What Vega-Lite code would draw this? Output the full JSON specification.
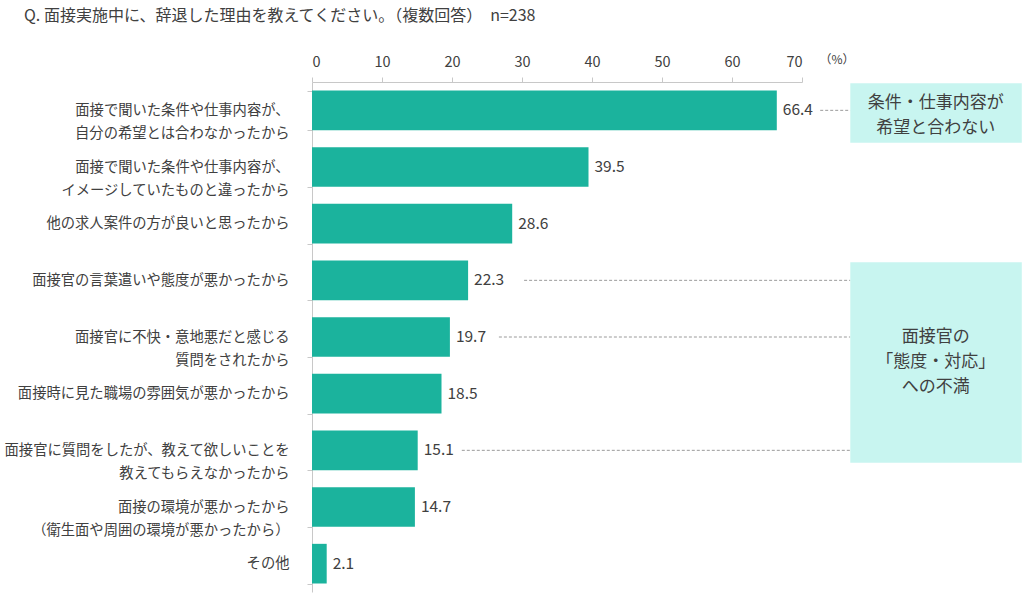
{
  "$schema": "https://vega.github.io/schema/vega-lite/v6.json",
  "width": 490,
  "height": 510,
  "autosize": {"type": "none"},
  "padding": {"left": 312, "top": 82, "right": 226, "bottom": 11},
  "background": "white",
  "config": {
    "font": "Noto Sans CJK JP",
    "view": {"stroke": null},
    "text": {"font": "Noto Sans CJK JP", "color": "#404040"}
  },
  "title": {
    "text": "Q. 面接実施中に、辞退した理由を教えてください。（複数回答）　n=238",
    "anchor": "start",
    "frame": "group",
    "fontSize": 16,
    "fontWeight": "normal",
    "color": "#404040",
    "dx": -288,
    "offset": 30
  },
  "datasets": {
    "bars": [
      {"reason": "面接で聞いた条件や仕事内容が、|自分の希望とは合わなかったから", "value": 66.4},
      {"reason": "面接で聞いた条件や仕事内容が、|イメージしていたものと違ったから", "value": 39.5},
      {"reason": "他の求人案件の方が良いと思ったから", "value": 28.6},
      {"reason": "面接官の言葉遣いや態度が悪かったから", "value": 22.3},
      {"reason": "面接官に不快・意地悪だと感じる|質問をされたから", "value": 19.7},
      {"reason": "面接時に見た職場の雰囲気が悪かったから", "value": 18.5},
      {"reason": "面接官に質問をしたが、教えて欲しいことを|教えてもらえなかったから", "value": 15.1},
      {"reason": "面接の環境が悪かったから|（衛生面や周囲の環境が悪かったから）", "value": 14.7},
      {"reason": "その他", "value": 2.1}
    ],
    "leaders": [
      {"reason": "面接で聞いた条件や仕事内容が、|自分の希望とは合わなかったから", "from": 72.6, "to": 76.9},
      {"reason": "面接官の言葉遣いや態度が悪かったから", "from": 30.3, "to": 76.9},
      {"reason": "面接官に不快・意地悪だと感じる|質問をされたから", "from": 26.7, "to": 76.9},
      {"reason": "面接官に質問をしたが、教えて欲しいことを|教えてもらえなかったから", "from": 21.4, "to": 76.9}
    ],
    "boxes": [
      {"x0": 76.9, "x1": 101.4, "y0": 0.02, "y1": 1.07, "tx": 89.1, "ty": 0.37, "label": "条件・仕事内容が|希望と合わない"},
      {"x0": 76.9, "x1": 101.4, "y0": 3.18, "y1": 6.72, "tx": 89.1, "ty": 4.5, "label": "面接官の|「態度・対応」|への不満"}
    ],
    "unit": [
      {"x": 75.0, "y": -0.39, "label": "（%）"}
    ]
  },
  "layer": [
    {
      "layer": [
        {
          "data": {"name": "bars"},
          "mark": {"type": "bar", "color": "#1bb39d"},
          "encoding": {
            "y": {
              "field": "reason",
              "type": "nominal",
              "sort": null,
              "scale": {"paddingInner": 0.3, "paddingOuter": 0.15},
              "axis": {
                "title": null,
                "labelExpr": "datum.value ? split(datum.value, '|') : ''",
                "labelFontSize": 14.3,
                "labelColor": "#404040",
                "labelLineHeight": 23,
                "labelPadding": 18,
                "labelLimit": 400,
                "tickBand": "extent",
                "tickSize": 5,
                "tickColor": "#c8c8c8",
                "domainColor": "#c8c8c8"
              }
            },
            "x": {
              "field": "value",
              "type": "quantitative",
              "scale": {"domain": [0, 70], "nice": false},
              "axis": {
                "orient": "top",
                "title": null,
                "values": [0, 10, 20, 30, 40, 50, 60, 70],
                "grid": false,
                "labelFontSize": 14.5,
                "labelColor": "#404040",
                "labelPadding": 8,
                "tickSize": 5,
                "tickColor": "#c8c8c8",
                "domainColor": "#c8c8c8"
              }
            }
          }
        },
        {
          "data": {"name": "bars"},
          "mark": {"type": "text", "align": "left", "baseline": "middle", "dx": 6, "fontSize": 15.5},
          "encoding": {
            "y": {"field": "reason", "type": "nominal", "sort": null},
            "x": {"field": "value", "type": "quantitative"},
            "text": {"field": "value", "type": "quantitative", "format": ".1f"}
          }
        },
        {
          "data": {"name": "leaders"},
          "mark": {"type": "rule", "color": "#9a9a9a", "strokeDash": [3, 2], "strokeWidth": 1},
          "encoding": {
            "y": {"field": "reason", "type": "nominal", "sort": null},
            "x": {"field": "from", "type": "quantitative"},
            "x2": {"field": "to"}
          }
        }
      ]
    },
    {
      "layer": [
        {
          "data": {"name": "boxes"},
          "mark": {"type": "rect", "color": "#c8f5f0"},
          "encoding": {
            "x": {"field": "x0", "type": "quantitative"},
            "x2": {"field": "x1"},
            "y": {"field": "y0", "type": "quantitative", "scale": {"domain": [0, 9], "reverse": true, "nice": false, "zero": false}, "axis": null},
            "y2": {"field": "y1"}
          }
        },
        {
          "data": {"name": "boxes"},
          "mark": {"type": "text", "align": "center", "baseline": "middle", "fontSize": 17, "lineBreak": "|", "lineHeight": 25},
          "encoding": {
            "x": {"field": "tx", "type": "quantitative"},
            "y": {"field": "ty", "type": "quantitative"},
            "text": {"field": "label"}
          }
        },
        {
          "data": {"name": "unit"},
          "mark": {"type": "text", "align": "center", "baseline": "middle", "fontSize": 12},
          "encoding": {
            "x": {"field": "x", "type": "quantitative"},
            "y": {"field": "y", "type": "quantitative"},
            "text": {"field": "label"}
          }
        }
      ]
    }
  ],
  "resolve": {"scale": {"y": "independent"}, "axis": {"y": "independent"}}
}
